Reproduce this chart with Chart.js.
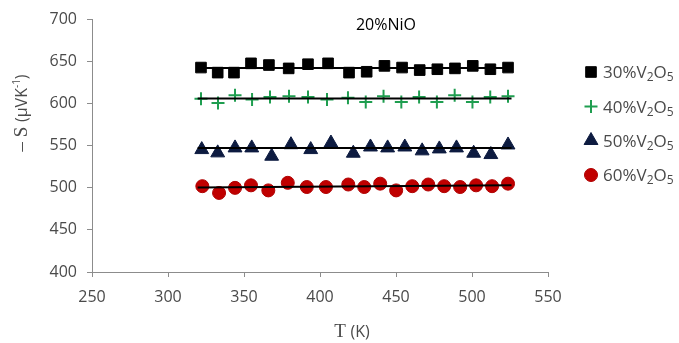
<!DOCTYPE html>
<html>
<head>
<meta charset="utf-8">
<script src="https://cdn.jsdelivr.net/npm/chart.js@4.4.1/dist/chart.umd.min.js"></script>
<style>
html,body{margin:0;padding:0;background:#fff;}
canvas{display:block;}
</style>
</head>
<body>
<canvas id="c" width="679" height="343"></canvas>
<script>
// ---- data ----
const seriesNames = ['30%V', '40%V', '50%V', '60%V']; // followed by 2O5 subscripts
const xTicksMin = 250, xTicksMax = 550, xStep = 50;
const yTicksMin = 400, yTicksMax = 700, yStep = 50;

const t30 = [321.7, 332.7, 343.4, 354.6, 366.4, 379.4, 392.1, 405.3, 419.1, 430.7, 442.4, 454.0, 465.6, 477.2, 488.8, 500.5, 512.1, 523.7];
const s30 = [643, 637, 637, 648, 646, 642, 647, 648, 637, 638, 645, 643, 640, 641, 642, 645, 641, 643];

const t40 = [321.7, 332.9, 344.1, 355.3, 367.1, 379.6, 392.1, 404.6, 418.4, 430.1, 441.8, 453.5, 465.2, 476.9, 488.6, 500.3, 512.0, 523.7];
const s40 = [606, 601, 610, 605, 608, 609, 608, 605, 607, 602, 609, 602, 608, 602, 610, 602, 608, 609];

const t50 = [322.2, 332.7, 344.1, 355.1, 368.2, 380.9, 393.9, 407.2, 421.9, 433.2, 444.5, 455.8, 467.2, 478.5, 489.8, 501.1, 512.4, 523.7];
const s50 = [545.5, 541.6, 547.5, 547.5, 537.6, 551.3, 545.5, 553.3, 541.2, 548.6, 547.5, 548.6, 544, 546.3, 547.5, 541.2, 539.6, 551];

const t60 = [322.6, 333.6, 344.1, 354.6, 366.0, 378.8, 391.3, 403.9, 418.6, 429.1, 439.6, 450.1, 460.7, 471.2, 481.7, 492.2, 502.7, 513.2, 523.7];
const s60 = [502, 494, 500, 503, 497, 506, 501, 501, 504, 501, 505, 497, 502, 504, 502, 501, 503, 502, 505];

// trend lines (end points)
const fitT = [319.5, 526];
const fit30 = [642.5, 642.5];
const fit40 = [606.3, 606.3];
const fit50 = [547.3, 547.3];
const fit60 = [500.5, 503];

const colors = {
  s30: '#000000',
  s40: '#1f9e50',
  s50: '#0d1b40',
  s60: '#c00000'
};

function pts(xs, ys){ return xs.map((x,i)=>({x:x, y:ys[i]})); }

const markerSets = [
  {label:'30%', data:pts(t30,s30), pointStyle:'rect', pointRadius:7.5, backgroundColor:colors.s30, borderColor:colors.s30, pointBorderWidth:1},
  {label:'40%', data:pts(t40,s40), pointStyle:'cross', pointRadius:6.5, backgroundColor:colors.s40, borderColor:colors.s40, pointBorderWidth:2},
  {label:'50%', data:pts(t50,s50), pointStyle:'triangle', pointRadius:8, backgroundColor:colors.s50, borderColor:colors.s50, pointBorderWidth:1},
  {label:'60%', data:pts(t60,s60), pointStyle:'circle', pointRadius:6.5, backgroundColor:colors.s60, borderColor:'#b00000', pointBorderWidth:1}
];

const datasets = [];
markerSets.forEach(m => {
  datasets.push(Object.assign({type:'scatter', showLine:false, order:2, pointHoverRadius:m.pointRadius}, m));
});
[fit30, fit40, fit50, fit60].forEach((f,i) => {
  datasets.push({type:'line', label:'fit'+i, data:pts(fitT,f), borderColor:'#000', borderWidth:2,
    pointRadius:0, fill:false, order:1, tension:0});
});

const axisColor = '#8c8c8c';
const textColor = '#4a4a4a';

// legend + titles drawn with the chart
const deco = {
  id:'deco',
  afterDraw(chart){
    const ctx = chart.ctx;
    ctx.save();
    // chart title
    ctx.fillStyle = '#000';
    ctx.font = '16px "Open Sans"';
    ctx.textAlign = 'center';
    ctx.textBaseline = 'middle';
    ctx.fillText('20%NiO', 386, 25);

    // legend
    const rowsY = [72, 106.5, 140.5, 175];
    markerSets.forEach((m,i) => {
      const y = rowsY[i];
      ctx.fillStyle = m.backgroundColor;
      ctx.strokeStyle = m.borderColor;
      ctx.lineWidth = m.pointBorderWidth;
      Chart.helpers.drawPoint(ctx, {pointStyle:m.pointStyle, radius:m.pointRadius, rotation:0, borderWidth:m.pointBorderWidth}, 591, y);
      // text with subscripts
      let x = 603;
      ctx.fillStyle = textColor;
      ctx.textAlign = 'left';
      ctx.textBaseline = 'alphabetic';
      const base = y + 6;
      ctx.font = '17px "Open Sans"';
      ctx.fillText(seriesNames[i], x, base); x += ctx.measureText(seriesNames[i]).width;
      ctx.font = '12px "Open Sans"';
      ctx.fillText('2', x, base + 3); x += ctx.measureText('2').width;
      ctx.font = '17px "Open Sans"';
      ctx.fillText('O', x, base); x += ctx.measureText('O').width;
      ctx.font = '12px "Open Sans"';
      ctx.fillText('5', x, base + 3);
    });

    // x axis title: serif T + sans (K)
    ctx.fillStyle = textColor;
    ctx.textBaseline = 'alphabetic';
    const xc = 352;
    ctx.font = '19px "Liberation Serif"';
    const wT = ctx.measureText('T ').width;
    ctx.font = '16px "Open Sans"';
    const wK = ctx.measureText('(K)').width;
    let xx = xc - (wT + wK) / 2;
    ctx.font = '19px "Liberation Serif"';
    ctx.textAlign = 'left';
    ctx.fillText('T ', xx, 337);
    ctx.font = '16px "Open Sans"';
    ctx.fillText('(K)', xx + wT, 337);

    // y axis title rotated
    ctx.translate(27, 113);
    ctx.rotate(-Math.PI/2);
    ctx.font = '19px "Liberation Serif"';
    const p1 = '\u2013 S ';
    const w1 = ctx.measureText(p1).width;
    ctx.font = '16px "Open Sans"';
    const p2 = '(\u03bcVK';
    const w2 = ctx.measureText(p2).width;
    ctx.font = '10px "Open Sans"';
    const p3 = '-1';
    const w3 = ctx.measureText(p3).width;
    ctx.font = '16px "Open Sans"';
    const w4 = ctx.measureText(')').width;
    let sx = -(w1 + w2 + w3 + w4) / 2;
    ctx.font = '19px "Liberation Serif"';
    ctx.fillText(p1, sx, 0); sx += w1;
    ctx.font = '16px "Open Sans"';
    ctx.fillText(p2, sx, 0); sx += w2;
    ctx.font = '10px "Open Sans"';
    ctx.fillText(p3, sx, -7); sx += w3;
    ctx.font = '16px "Open Sans"';
    ctx.fillText(')', sx, 0);
    ctx.restore();
  }
};

Chart.defaults.font.family = '"Open Sans", sans-serif';

new Chart(document.getElementById('c'), {
  data: {datasets: datasets},
  options: {
    responsive:false,
    animation:false,
    devicePixelRatio:1,
    layout:{padding:{top:16, right:131, left:0, bottom:0}},
    plugins:{legend:{display:false}, tooltip:{enabled:false}},
    scales:{
      x:{type:'linear', position:'bottom', min:xTicksMin, max:xTicksMax,
        ticks:{stepSize:xStep, color:textColor, font:{size:16}, padding:11, maxRotation:0},
        grid:{drawOnChartArea:false, drawTicks:true, tickLength:5, color:axisColor},
        border:{color:axisColor, width:1},
        afterFit(s){ s.height = 71; }
      },
      y:{type:'linear', position:'left', min:yTicksMin, max:yTicksMax,
        ticks:{stepSize:yStep, color:textColor, font:{size:16}, padding:10},
        grid:{drawOnChartArea:false, drawTicks:true, tickLength:5, color:axisColor},
        border:{color:axisColor, width:1},
        afterFit(s){ s.width = 92; }
      }
    }
  },
  plugins:[deco]
});
</script>
</body>
</html>
